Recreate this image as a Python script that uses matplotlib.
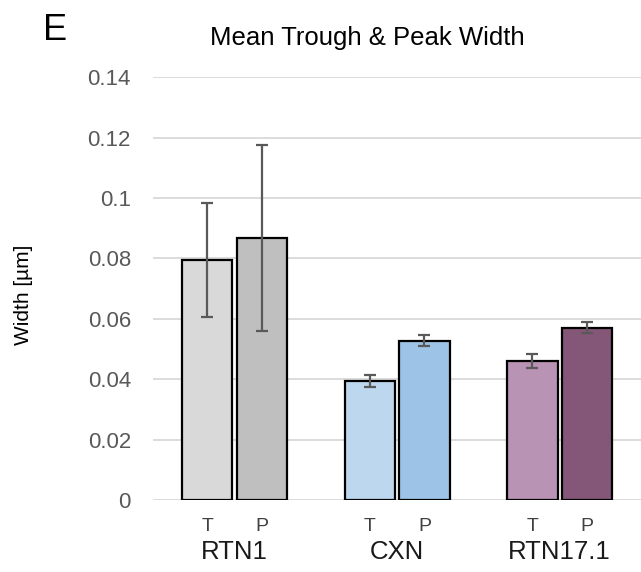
import numpy as np
import matplotlib.pyplot as plt

plt.rcParams['font.family'] = ['Liberation Sans', 'DejaVu Sans']

# Data
groups = ['RTN1', 'CXN', 'RTN17.1']
sub_labels = ['T', 'P']
trough = [0.0794, 0.0394, 0.0461]
peak = [0.0866, 0.0527, 0.0570]
trough_err = [0.0188, 0.0020, 0.0023]
peak_err = [0.0308, 0.0018, 0.0018]

trough_colors = ['#d9d9d9', '#bdd7ee', '#b993b3']
peak_colors = ['#bfbfbf', '#9dc3e6', '#845779']

fig = plt.figure(figsize=(6.41, 5.72), dpi=100)
ax = fig.add_axes([0.239, 0.126, 0.761, 0.739])

x = np.arange(len(groups))
w = 0.31
off = 0.168

ax.bar(x - off, trough, w, color=trough_colors, edgecolor='black', linewidth=1.6, zorder=3)
ax.bar(x + off, peak, w, color=peak_colors, edgecolor='black', linewidth=1.6, zorder=3)
ax.errorbar(x - off, trough, yerr=trough_err, fmt='none', ecolor='#595959',
            elinewidth=1.6, capsize=4, capthick=1.6, zorder=4)
ax.errorbar(x + off, peak, yerr=peak_err, fmt='none', ecolor='#595959',
            elinewidth=1.6, capsize=4, capthick=1.6, zorder=4)

ax.set_xlim(-0.5, len(groups) - 0.5)
ax.set_ylim(0, 0.14)
ax.set_yticks(np.arange(0, 0.141, 0.02))
ax.set_yticklabels(['0', '0.02', '0.04', '0.06', '0.08', '0.1', '0.12', '0.14'])
ax.yaxis.grid(True, color='#d9d9d9', linewidth=1.3, zorder=0)
ax.set_axisbelow(True)
for s in ax.spines.values():
    s.set_visible(False)
ax.tick_params(axis='y', length=0, pad=16, labelsize=16, labelcolor='#595959')

# T / P under each bar, group names below
ax.set_xticks([])
xt = ax.get_xaxis_transform()
for xi, g in zip(x, groups):
    ax.text(xi - off, -0.064, sub_labels[0], transform=xt, ha='center', va='center',
            fontsize=14, color='#404040')
    ax.text(xi + off, -0.064, sub_labels[1], transform=xt, ha='center', va='center',
            fontsize=14, color='#404040')
    ax.text(xi, -0.123, g, transform=xt, ha='center', va='center',
            fontsize=18.5, color='#1a1a1a')

fig.text(0.036, 0.484, 'Width [\u00b5m]', rotation=90, ha='center', va='center', fontsize=15)

fig.text(0.573, 0.921, 'Mean Trough & Peak Width', ha='center', va='baseline', fontsize=18.5)
fig.text(0.067, 0.930, 'E', ha='left', va='baseline', fontsize=26)

fig.savefig('out.png', dpi=100)
